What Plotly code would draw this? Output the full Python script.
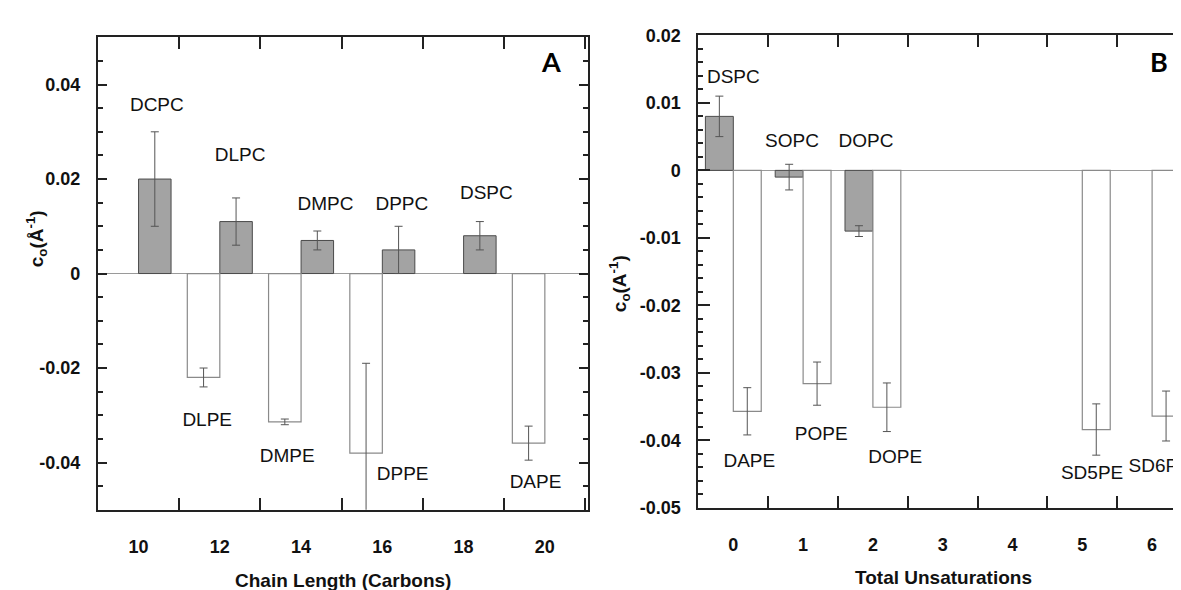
import plotly.graph_objects as go

# ---------------- Panel A data ----------------
chain_pc = [10, 12, 14, 16, 18]
pc_names_a = ["DCPC", "DLPC", "DMPC", "DPPC", "DSPC"]
pc_vals_a = [0.020, 0.011, 0.007, 0.005, 0.008]
pc_err_a = [0.010, 0.005, 0.002, 0.005, 0.003]

chain_pe = [12, 14, 16, 20]
pe_names_a = ["DLPE", "DMPE", "DPPE", "DAPE"]
pe_vals_a = [-0.022, -0.0314, -0.038, -0.0359]
pe_err_a = [0.002, 0.0006, 0.019, 0.0036]

# label anchor positions (data coords)
pc_lab_x_a = [10.45, 12.5, 14.6, 16.48, 18.56]
pc_lab_y_a = [0.0355, 0.0249, 0.0145, 0.0145, 0.0167]
pe_lab_x_a = [11.69, 13.66, 16.5, 19.77]
pe_lab_y_a = [-0.0312, -0.0388, -0.0427, -0.0443]

x_ticks_a = [10, 12, 14, 16, 18, 20]
y_ticks_a = [-0.04, -0.02, 0, 0.02, 0.04]
y_ticktext_a = ["-0.04", "-0.02", "0", "0.02", "0.04"]

# ---------------- Panel B data ----------------
unsat_pc = [0, 1, 2]
pc_names_b = ["DSPC", "SOPC", "DOPC"]
pc_vals_b = [0.008, -0.001, -0.009]
pc_err_b = [0.003, 0.0019, 0.0008]

unsat_pe = [0, 1, 2, 5, 6]
pe_names_b = ["DAPE", "POPE", "DOPE", "SD5PE", "SD6PE"]
pe_vals_b = [-0.0357, -0.0316, -0.0351, -0.0384, -0.0364]
pe_err_b = [0.0035, 0.0032, 0.0036, 0.0038, 0.0037]

pc_lab_x_b = [0.0, 0.84, 1.9]
pc_lab_y_b = [0.0137, 0.0041, 0.0041]
pe_lab_x_b = [0.23, 1.26, 2.32, 5.14, 6.11]
pe_lab_y_b = [-0.0433, -0.0393, -0.0427, -0.045, -0.044]

x_ticks_b = [0, 1, 2, 3, 4, 5, 6]
y_ticks_b = [-0.05, -0.04, -0.03, -0.02, -0.01, 0, 0.01, 0.02]
y_ticktext_b = ["-0.05", "-0.04", "-0.03", "-0.02", "-0.01", "0", "0.01", "0.02"]

# ---------------- styles ----------------
W, H = 1181, 590
PC_FILL = "#a3a3a3"
PC_LINE = "#4a4a4a"
PE_FILL = "#ffffff"
PE_LINE = "#8a8a8a"
ERR_COL = "#555555"
AX_COL = "#222222"
TXT_FONT = dict(family="Liberation Sans, Arial, sans-serif", size=19, color="#111111")
TICK_FONT = dict(family="Liberation Sans, Arial, sans-serif", size=18, color="#111111", weight="bold")


def px_x(x):
    return x / W


def px_y(y):
    return 1 - y / H


fig = go.Figure()

# Panel A bars
fig.add_trace(go.Bar(x=chain_pc, y=pc_vals_a, width=0.8, offset=0,
                     marker=dict(color=PC_FILL, line=dict(color=PC_LINE, width=1)),
                     error_y=dict(type="data", array=pc_err_a, color=ERR_COL, thickness=1, width=4),
                     xaxis="x", yaxis="y", showlegend=False))
fig.add_trace(go.Bar(x=chain_pe, y=pe_vals_a, width=0.8, offset=-0.8,
                     marker=dict(color=PE_FILL, line=dict(color=PE_LINE, width=1.2)),
                     error_y=dict(type="data", array=pe_err_a, color=ERR_COL, thickness=1, width=4),
                     xaxis="x", yaxis="y", showlegend=False))
fig.add_trace(go.Scatter(x=pc_lab_x_a + pe_lab_x_a, y=pc_lab_y_a + pe_lab_y_a,
                         text=pc_names_a + pe_names_a, mode="text", textfont=TXT_FONT,
                         cliponaxis=True, xaxis="x", yaxis="y", showlegend=False, hoverinfo="skip"))

# Panel B bars
fig.add_trace(go.Bar(x=unsat_pc, y=pc_vals_b, width=0.4, offset=-0.4,
                     marker=dict(color=PC_FILL, line=dict(color=PC_LINE, width=1)),
                     error_y=dict(type="data", array=pc_err_b, color=ERR_COL, thickness=1, width=4),
                     xaxis="x2", yaxis="y2", showlegend=False))
fig.add_trace(go.Bar(x=unsat_pe, y=pe_vals_b, width=0.4, offset=0,
                     marker=dict(color=PE_FILL, line=dict(color=PE_LINE, width=1.2)),
                     error_y=dict(type="data", array=pe_err_b, color=ERR_COL, thickness=1, width=4),
                     xaxis="x2", yaxis="y2", showlegend=False))
fig.add_trace(go.Scatter(x=pc_lab_x_b + pe_lab_x_b, y=pc_lab_y_b + pe_lab_y_b,
                         text=pc_names_b + pe_names_b, mode="text", textfont=TXT_FONT,
                         cliponaxis=True, xaxis="x2", yaxis="y2", showlegend=False, hoverinfo="skip"))

common_axis = dict(showline=True, linecolor=AX_COL, linewidth=2, mirror="ticks",
                   showgrid=False, tickfont=TICK_FONT, ticks="inside", tickcolor=AX_COL,
                   tickwidth=2, fixedrange=True)

fig.update_layout(
    width=W, height=H,
    margin=dict(l=0, r=0, t=0, b=0),
    paper_bgcolor="white", plot_bgcolor="white",
    barmode="overlay",
    showlegend=False,
    xaxis=dict(domain=[px_x(90), px_x(580)], range=[9, 21.05], anchor="y",
               tickvals=x_ticks_a, ticklen=0, zeroline=False, ticklabelstandoff=20,
               minor=dict(tick0=11, dtick=2, ticks="inside", ticklen=12, tickwidth=2,
                          tickcolor=AX_COL, showgrid=False),
               **common_axis),
    yaxis=dict(domain=[px_y(509), px_y(20)], range=[-0.05, 0.05], anchor="x",
               tickvals=y_ticks_a, ticktext=y_ticktext_a, ticklen=9, ticklabelstandoff=12,
               zeroline=True, zerolinecolor="#9a9a9a", zerolinewidth=1,
               minor=dict(dtick=0.005, ticks="inside", ticklen=5, tickwidth=2,
                          tickcolor=AX_COL, showgrid=False),
               **common_axis),
    xaxis2=dict(domain=[px_x(691), px_x(1180)], range=[-0.5, 6.5], anchor="y2",
                tickvals=x_ticks_b, ticklen=0, zeroline=False, ticklabelstandoff=20,
                minor=dict(tick0=0.5, dtick=1, ticks="inside", ticklen=12, tickwidth=2,
                           tickcolor=AX_COL, showgrid=False),
                **common_axis),
    yaxis2=dict(domain=[px_y(507), px_y(18)], range=[-0.05, 0.02], anchor="x2",
                tickvals=y_ticks_b, ticktext=y_ticktext_b, ticklen=12, ticklabelstandoff=12,
                zeroline=True, zerolinecolor="#9a9a9a", zerolinewidth=1,
                minor=dict(dtick=0.002, ticks="inside", ticklen=5, tickwidth=2,
                           tickcolor=AX_COL, showgrid=False),
                **common_axis),
)

TITLE_FONT = dict(family="Liberation Sans, Arial, sans-serif", size=19, color="#111111", weight="bold")
ann = [
    dict(text="Chain Length (Carbons)", x=px_x(335), y=px_y(582)),
    dict(text="Total Unsaturations", x=px_x(936), y=px_y(579)),
    dict(text="c<sub>o</sub>(Å<sup>-1</sup>)", x=px_x(28), y=px_y(228), textangle=-90),
    dict(text="c<sub>o</sub>(A<sup>-1</sup>)", x=px_x(612), y=px_y(275), textangle=-90),
]
for a in ann:
    fig.add_annotation(xref="paper", yref="paper", showarrow=False, font=TITLE_FONT,
                       xanchor="center", yanchor="middle", **a)

PANEL_FONT = dict(family="Lato, Open Sans, sans-serif", size=27, color="#000000", weight="bold")
fig.add_annotation(text="A", x=px_x(543), y=px_y(45), xref="paper", yref="paper",
                   showarrow=False, font=PANEL_FONT, xanchor="center", yanchor="middle")
fig.add_annotation(text="B", x=px_x(1152), y=px_y(45), xref="paper", yref="paper",
                   showarrow=False, font=PANEL_FONT, xanchor="center", yanchor="middle")

fig.write_html("out.html")
